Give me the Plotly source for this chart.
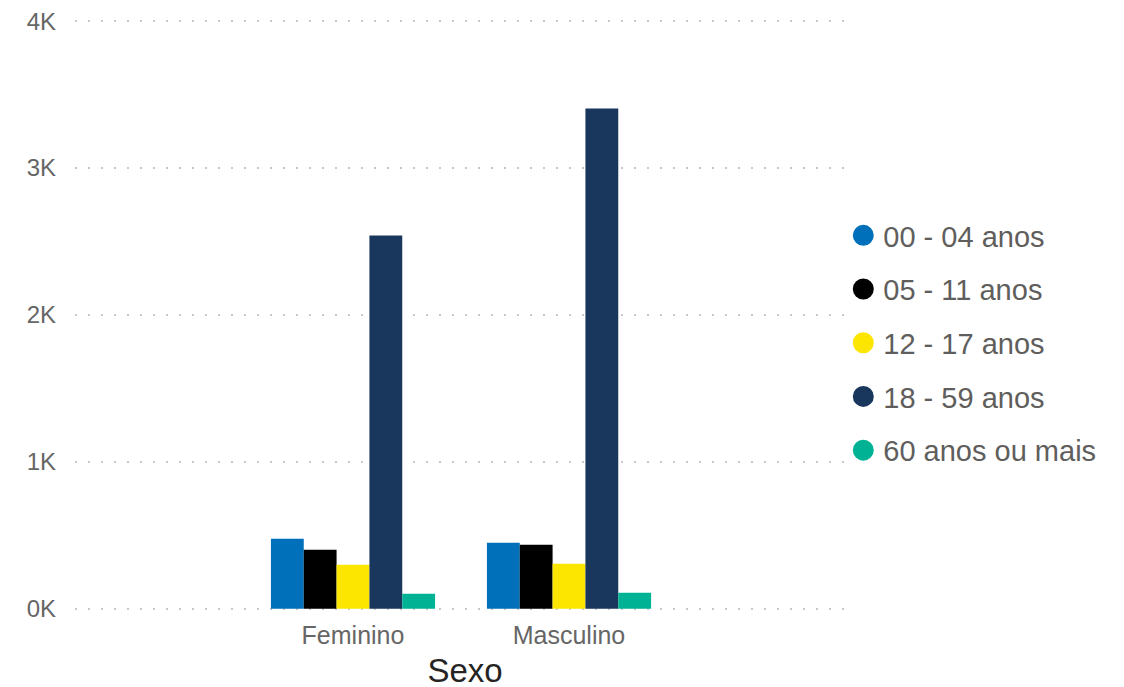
import plotly.graph_objects as go

categories = ["Feminino", "Masculino"]
age_groups = ["00 - 04 anos", "05 - 11 anos", "12 - 17 anos", "18 - 59 anos", "60 anos ou mais"]
feminino = [477, 402, 300, 2541, 102]
masculino = [450, 436, 307, 3406, 109]
colors = ["#0070BA", "#000000", "#FCE600", "#19365D", "#00B294"]
y_tickvals = [0, 1000, 2000, 3000, 4000]
y_ticktext = ["0K", "1K", "2K", "3K", "4K"]

fig = go.Figure()
for i, age in enumerate(age_groups):
    fig.add_trace(go.Bar(
        x=categories, y=[feminino[i], masculino[i]], name=age,
        marker=dict(color=colors[i], line=dict(width=0)),
        showlegend=False,
    ))
for i, age in enumerate(age_groups):
    fig.add_trace(go.Scatter(
        x=[None], y=[None], mode="markers", name=age,
        marker=dict(color=colors[i], size=16, symbol="circle",
                    line=dict(color=colors[i], width=5)),
        legendgroup=f"g{i}", showlegend=True,
    ))

fig.update_layout(
    width=1124, height=687,
    margin=dict(l=67, r=277, t=12, b=85, autoexpand=False),
    paper_bgcolor="white", plot_bgcolor="white",
    barmode="group", bargap=0.24, bargroupgap=0,
    font=dict(family="Liberation Sans, Arial, sans-serif", color="#666666"),
    legend=dict(
        x=0.985, xanchor="left", y=0.678, yanchor="top",
        font=dict(size=29, color="#605E5C"),
        tracegroupgap=13, itemwidth=30,
        bgcolor="rgba(0,0,0,0)",
    ),
    xaxis=dict(
        type="category", range=[-1.287, 2.324], automargin=False,
        showgrid=False, showline=False, zeroline=False,
        tickfont=dict(size=25, color="#666666"), ticklabelstandoff=8,
        title=dict(text="Sexo", font=dict(size=33, color="#252423"), standoff=10),
        ticks="",
    ),
    yaxis=dict(
        range=[-8, 4008], tickvals=y_tickvals, ticktext=y_ticktext, automargin=False,
        showgrid=True, gridcolor="#C8C8C8", gridwidth=2, griddash="2px,11px",
        zeroline=False, showline=False, ticklabeloverflow="allow",
        tickfont=dict(size=24, color="#666666"), ticklabelstandoff=18,
    ),
)

fig.write_html("out.html")
